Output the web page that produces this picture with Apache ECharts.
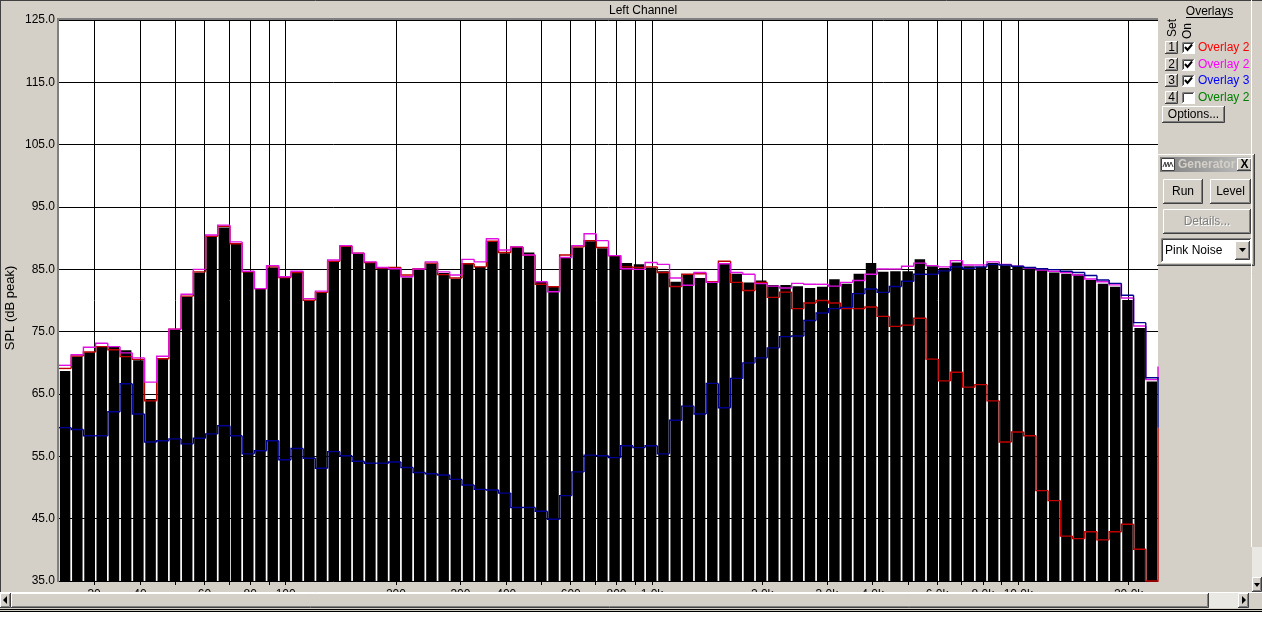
<!DOCTYPE html>
<html><head><meta charset="utf-8">
<script src="https://cdn.jsdelivr.net/npm/echarts@6/dist/echarts.min.js"></script>
<style>html,body{margin:0;padding:0;background:#D4D0C8;overflow:hidden}#chart{width:1262px;height:637px}</style>
</head><body><div id="chart"></div>
<script>
// 1/30-decade band centre frequencies (Hz)
const bandCenters = [25,27,29.1,31.5,34,36.7,39.6,42.8,46.2,49.9,53.9,58.2,62.8,67.8,73.2,79.1,85.4,92.2,99.5,107,116,125,135,146,158,170,184,199,214,232,250,270,291,315,340,367,396,428,462,499,539,582,628,678,732,791,854,922,995,1075,1160,1253,1353,1461,1577,1703,1839,1986,2144,2315,2500,2700,2915,3148,3399,3670,3963,4279,4620,4989,5386,5816,6280,6781,7322,7906,8536,9217,9953,10746,11604,12529,13529,14608,15773,17031,18390,19857,21440,23150];
// live measurement (black bars), dB peak
const splLive = [68.7,71.0,71.7,72.7,72.7,72.0,70.4,64.2,70.6,75.4,80.6,84.5,90.3,91.7,89.1,84.6,81.9,85.3,83.6,84.4,80.0,81.2,86.2,88.7,87.5,86.0,85.2,85.1,83.7,85.0,85.9,84.4,83.5,85.9,85.4,89.4,87.6,88.6,87.7,83.0,82.3,86.8,88.5,89.5,88.4,87.2,86.0,85.8,85.3,84.7,83.0,84.1,83.6,82.8,86.0,84.3,82.9,83.2,82.5,82.5,82.3,82.0,82.2,83.4,82.7,84.3,86.0,84.6,84.7,84.7,86.6,85.5,85.2,86.1,85.5,85.4,86.0,85.6,85.4,85.2,84.9,84.5,84.3,84.2,83.3,82.7,82.2,80.1,75.6,67.0];
// overlay set 1 (red)
const overlay1 = [69.1,71.1,71.75,72.6,72.1,71.0,70.55,63.9,70.65,75.4,80.7,84.6,90.3,91.9,89.1,84.6,81.9,85.4,83.7,84.5,80.05,81.3,86.3,88.7,87.6,86.1,85.2,85.3,84.1,85.1,86.0,84.15,83.6,85.9,85.4,89.5,87.7,88.6,87.3,82.6,82.2,87.3,88.6,89.6,88.5,87.2,85.4,85.3,85.4,84.5,82.25,84.2,84.3,83.0,86.3,82.9,81.6,82.9,80.5,81.35,78.7,79.6,80.0,79.6,78.7,78.7,78.95,77.45,75.85,76.05,77.15,70.6,67.1,68.5,66.1,66.5,63.9,57.3,58.9,58.3,49.5,47.9,42.2,41.8,42.9,41.6,42.9,44.1,40.1,35.0];
// overlay set 2 (magenta)
const overlay2 = [69.6,71.3,72.5,73.15,72.6,71.6,70.8,66.9,71.05,75.4,81.0,85.0,90.5,92.1,89.4,84.7,81.9,85.6,83.8,84.7,80.3,81.5,86.5,88.8,87.6,86.2,85.3,85.1,83.8,85.05,86.2,84.6,84.1,86.6,86.2,89.9,88.1,88.6,87.3,83.0,81.4,86.9,88.8,90.7,89.6,87.2,85.1,85.0,86.1,85.8,83.6,82.45,84.5,82.9,85.9,84.5,84.2,82.7,82.3,82.0,82.75,82.6,82.6,82.3,82.9,83.2,84.2,85.05,85.05,85.5,86.0,85.6,85.4,86.4,85.7,85.7,86.2,85.8,85.5,85.2,84.9,84.7,84.5,84.1,83.45,83.0,82.5,80.4,75.9,67.3];
// overlay set 3 (blue)
const overlay3 = [59.6,59.3,58.3,58.3,62.15,66.65,61.8,57.3,57.5,57.8,57.0,57.9,58.6,59.9,58.3,55.4,55.9,57.5,54.45,56.25,54.7,53.1,55.75,55.1,54.2,53.9,53.9,54.1,53.2,52.4,52.2,52.0,51.3,50.4,49.7,49.6,49.1,46.8,46.8,46.2,44.9,48.7,52.5,55.2,55.1,54.8,56.7,56.4,56.7,55.4,60.8,63.05,61.8,66.7,62.8,67.5,70.0,70.8,72.4,74.2,74.3,76.8,78.0,78.7,78.9,81.1,81.85,81.3,82.25,83.1,84.2,84.2,84.75,85.4,85.15,85.4,85.8,85.7,85.5,85.3,85.1,84.95,84.7,84.5,84.0,83.3,82.75,80.85,76.45,67.6];
// value of each overlay in the next (off-screen) band, seen as the riser at the right edge
const nextBand1 = 59.6, nextBand2 = 69.4, nextBand3 = 59.6;
// axes
const yTicks = [35,45,55,65,75,85,95,105,115,125];
const gridFreqs = [30,40,50,60,70,80,90,100,200,300,400,500,600,700,800,900,1000,2000,3000,4000,5000,6000,7000,8000,9000,10000,20000];
const labelFreqs = [30,40,60,80,100,200,300,400,600,800,1000,2000,3000,4000,6000,8000,10000,20000];
const labelTexts = ['30','40','60','80','100','200','300','400','600','800','1.0k','2.0k','3.0k','4.0k','6.0k','8.0k','10.0k','20.0k'];
const overlayNames = ['Overlay 2','Overlay 2','Overlay 3','Overlay 2'];
const overlayChecked = [true,true,true,false];

const FONT = '"Liberation Sans", Arial, sans-serif';
const lgFirst = Math.log10(bandCenters[0]);
const lgLast = Math.log10(bandCenters[bandCenters.length - 1]);
const halfBand = (lgLast - lgFirst) / (bandCenters.length - 1) / 2;

function stepSeries(name, data, nextVal, color, z) {
  const last = data.length - 1;
  return {
    type: 'custom', name: name, xAxisIndex: 0, yAxisIndex: 0, z: z, clip: false,
    data: data.map((v, i) => [i, v]),
    renderItem: function (params, api) {
      const i = api.value(0);
      const p = api.coord([i, api.value(1)]);
      const w = api.size([1, 0])[0];
      const pts = [];
      if (i > 0) pts.push([p[0] - w / 2, api.coord([i - 1, data[i - 1]])[1]]);
      pts.push([p[0] - w / 2, p[1]], [p[0] + w / 2, p[1]]);
      if (i === last) pts.push([p[0] + w / 2, api.coord([i, nextVal])[1]]);
      return { type: 'polyline', shape: { points: pts }, style: { stroke: color, lineWidth: 1.4, fill: null } };
    }
  };
}

// ---------- Windows-classic chrome helpers ----------
const G = [];
function rect(x, y, w, h, fill, extra) { G.push(Object.assign({ type: 'rect', shape: { x: x, y: y, width: w, height: h }, style: { fill: fill }, z: 100 }, extra || {})); }
function line(pts, color, lw) { G.push({ type: 'polyline', shape: { points: pts }, style: { stroke: color, lineWidth: lw || 1, fill: null }, z: 101 }); }
function text(x, y, s, o) {
  o = o || {};
  G.push({ type: 'text', x: x, y: y, rotation: o.rot || 0, z: 102,
    style: { text: s, fill: o.color || '#000', font: (o.bold ? 'bold ' : '') + (o.size || 12) + 'px ' + FONT,
      align: o.align || 'left', verticalAlign: 'middle' } });
}
function raised(x, y, w, h) {
  rect(x, y, w, h, '#D4D0C8');
  line([[x + 0.5, y + h - 1], [x + 0.5, y + 0.5], [x + w - 1, y + 0.5]], '#FFFFFF');
  line([[x, y + h - 0.5], [x + w - 0.5, y + h - 0.5], [x + w - 0.5, y]], '#404040');
  line([[x + 1, y + h - 1.5], [x + w - 1.5, y + h - 1.5], [x + w - 1.5, y + 1]], '#808080');
}
function sunken(x, y, w, h, fill) {
  rect(x, y, w, h, fill);
  line([[x + 0.5, y + h - 1], [x + 0.5, y + 0.5], [x + w - 1, y + 0.5]], '#808080');
  line([[x + 1.5, y + h - 2], [x + 1.5, y + 1.5], [x + w - 2, y + 1.5]], '#404040');
  line([[x, y + h - 0.5], [x + w - 0.5, y + h - 0.5], [x + w - 0.5, y]], '#FFFFFF');
}
function button(x, y, w, h, label, o) {
  raised(x, y, w, h);
  o = o || {};
  if (o.disabled) {
    text(x + w / 2 + 1, y + h / 2 + 1, label, { align: 'center', color: '#FFFFFF' });
    text(x + w / 2, y + h / 2, label, { align: 'center', color: '#808080' });
  } else {
    text(x + w / 2, y + h / 2, label, { align: 'center', size: o.size, bold: o.bold });
  }
}
function tri(pts) { G.push({ type: 'polygon', shape: { points: pts }, style: { fill: '#000' }, z: 103 }); }

// window frame + plot border
line([[0.5, 0], [0.5, 592]], '#404040');
line([[0, 0.5], [1262, 0.5]], '#404040');
rect(57, 18, 2, 564, '#808080');
rect(57, 18, 1101, 2, '#808080');
text(609, 10.5, 'Left Channel', {});

// overlay panel
text(1209.5, 12, 'Overlays', { align: 'center' });
line([[1186, 17.5], [1233, 17.5]], '#000');
text(1172.5, 28, 'Set', { align: 'center', rot: Math.PI / 2 });
text(1187.5, 31, 'On', { align: 'center', rot: Math.PI / 2 });
const ovColors = ['#FF0000', '#FF00FF', '#0000FF', '#008000'];
[41, 58, 74, 91].forEach(function (ry, k) {
  button(1165, ry, 13, 13, String(k + 1), {});
  sunken(1182, ry + 1, 13, 12, '#FFFFFF');
  if (overlayChecked[k]) line([[1185, ry + 6], [1187.5, ry + 9], [1192, ry + 3.5]], '#000', 2);
  text(1198, ry + 7, overlayNames[k], { color: ovColors[k] });
});
button(1162, 106, 63, 17, 'Options...', {});

// generator window
raised(1157, 154, 98, 112);
G.push({ type: 'rect', shape: { x: 1160, y: 157, width: 92, height: 15 }, z: 100,
  style: { fill: new echarts.graphic.LinearGradient(0, 0, 1, 0, [{ offset: 0, color: '#808080' }, { offset: 1, color: '#C0C0C0' }]) } });
rect(1161, 158, 14, 13, '#FFFFFF');
line([[1161.5, 170.5], [1161.5, 158.5], [1174.5, 158.5], [1174.5, 170.5], [1161.5, 170.5]], '#404040');
line([[1163, 167], [1165, 162], [1166, 167], [1168, 162], [1169, 167], [1171, 162], [1173, 167]], '#404040');
text(1178, 165, 'Generator', { bold: true, color: '#D4D0C8' });
button(1237, 158, 15, 13, 'X', { size: 12, bold: true });
button(1163, 179, 40, 25, 'Run', {});
button(1210, 179, 41, 25, 'Level', {});
button(1163, 209, 88, 25, 'Details...', { disabled: true });
sunken(1161, 238, 91, 25, '#FFFFFF');
text(1165, 250.5, 'Pink Noise', {});
raised(1235, 241, 15, 19);
tri([[1239, 248], [1246, 248], [1242.5, 252]]);

// vertical scrollbar strip
line([[1251.5, 0], [1251.5, 547]], '#FFFFFF');
rect(1252, 547, 10, 30, '#EAE8E3');
raised(1252, 577, 10, 15);
tri([[1254, 583], [1260, 583], [1257, 587]]);

// horizontal scrollbar
rect(0, 592, 1262, 17, '#D4D0C8');
line([[0, 592.5], [1262, 592.5]], '#FFFFFF');
raised(0, 593, 11, 15);
tri([[7, 596], [7, 604], [3, 600]]);
raised(11, 593, 1198, 15);
rect(1209, 593, 29, 15, '#EAE8E3');
raised(1238, 593, 11, 15);
tri([[1242, 596], [1242, 604], [1246, 600]]);
rect(0, 609, 1262, 1, '#000');
rect(0, 611, 1262, 1, '#000');
rect(0, 612, 1262, 25, '#FFFFFF');

const chart = echarts.init(document.getElementById('chart'), null, { renderer: 'canvas' });
chart.setOption({
  animation: false,
  backgroundColor: '#D4D0C8',
  textStyle: { fontFamily: FONT },
  grid: { left: 59, top: 20, width: 1099, height: 561, show: true, backgroundColor: '#FFFFFF', borderWidth: 0,
    containLabel: false, outerBoundsMode: 'none' },
  xAxis: [
    { type: 'category', data: bandCenters, boundaryGap: true, show: false },
    { type: 'value', position: 'bottom', min: lgFirst - halfBand, max: lgLast + halfBand,
      axisLine: { show: false },
      axisTick: { show: true, length: 4, lineStyle: { color: '#000' }, customValues: gridFreqs.map(Math.log10) },
      splitLine: { show: true, lineStyle: { color: '#000', width: 1 } },
      axisLabel: { color: '#000', fontSize: 12, fontFamily: FONT, margin: 8,
        customValues: labelFreqs.map(Math.log10),
        formatter: function (v) {
          for (let i = 0; i < labelFreqs.length; i++) if (Math.abs(Math.log10(labelFreqs[i]) - v) < 1e-6) return labelTexts[i];
          return '';
        } } }
  ],
  yAxis: {
    type: 'value', min: 35, max: 125,
    name: 'SPL (dB peak)', nameLocation: 'middle', nameGap: 42, nameRotate: 90, nameMoveOverlap: false,
    nameTextStyle: { color: '#000', fontSize: 13, fontFamily: FONT, padding: [0, 15, 0, 0] },
    axisLine: { show: false }, axisTick: { show: false, customValues: yTicks },
    splitLine: { show: true, lineStyle: { color: '#000', width: 1 } },
    axisLabel: { color: '#000', fontSize: 12, fontFamily: FONT, margin: 4, customValues: yTicks,
      formatter: function (v) { return Number(v).toFixed(1); } }
  },
  series: [
    { type: 'bar', name: 'Live', xAxisIndex: 0, data: splLive, barCategoryGap: '14%', itemStyle: { color: '#000' }, z: 2 },
    stepSeries('Overlay 1', overlay1, nextBand1, '#C00000', 3),
    stepSeries('Overlay 2', overlay2, nextBand2, '#E010E0', 4),
    stepSeries('Overlay 3', overlay3, nextBand3, '#000090', 5)
  ],
  graphic: { elements: G }
});
</script></body></html>
